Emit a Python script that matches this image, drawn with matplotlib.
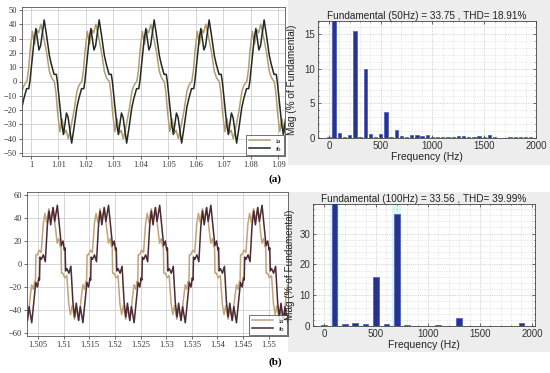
import numpy as np
import matplotlib
matplotlib.use("Agg")
import matplotlib.pyplot as plt
from matplotlib.patches import Rectangle
from matplotlib.ticker import MultipleLocator

# ---- (a) waveforms: one period (ms relative to 1.00 s)
ia_a_t = [-3.3, -2.6, -2.0, -1.5, -0.9, -0.3, 0.5, 1.3, 2.2, 2.8, 3.6, 4.6, 5.7,
          6.7, 7.4, 8.0, 8.5, 9.1, 9.7, 10.5, 11.3, 12.2, 12.8, 13.6, 14.6, 15.7]
ia_a_v = [-7, -3, -1, 0, 8, 22, 35, 26, 36, 34, 40, 31, 20,
          7, 3, 1, 0, -8, -22, -35, -26, -36, -34, -40, -31, -20]
ib_a_t = [-3.3, -2.6, -1.6, -0.8, -0.4, 0.4, 1.2, 1.8, 2.3, 2.9, 3.5, 4.2, 4.8, 5.6,
          6.7, 7.4, 8.4, 9.2, 9.6, 10.4, 11.2, 11.8, 12.3, 12.9, 13.5, 14.2, 14.8, 15.6]
ib_a_v = [-18, -12, -5, -5, 0, 15, 30, 37, 30, 22, 25, 35, 43, 33,
          18, 12, 5, 5, 0, -15, -30, -37, -30, -22, -25, -35, -43, -33]

# ---- (b) waveforms: one period (ms relative to 1.50454 s)
ia_b_t = [0.0, 0.26, 0.65, 1.04, 1.43, 1.76, 2.09, 2.54, 2.87, 3.39, 3.85, 4.17, 4.5, 4.76, 4.9,
          5.0, 5.26, 5.65, 6.04, 6.43, 6.76, 7.09, 7.54, 7.87, 8.39, 8.85, 9.17, 9.5, 9.76, 9.9]
ia_b_v = [8, 8, 12, 10, 35, 44, 36, 48, 38, 49, 30, 18, 22, 15, 16,
          -8, -8, -12, -10, -35, -44, -36, -48, -38, -49, -30, -18, -22, -15, -16]
ib_b_t = [0.8, 1.06, 1.45, 1.84, 2.23, 2.56, 2.89, 3.34, 3.67, 4.19, 4.65, 4.97, 5.3, 5.56, 5.7,
          5.8, 6.06, 6.45, 6.84, 7.23, 7.56, 7.89, 8.34, 8.67, 9.19, 9.65, 9.97, 10.3, 10.56, 10.7]
ib_b_v = [6, 4, 8, 2, 33, 46, 34, 49, 37, 51, 30, 16, 20, 12, 14,
          -6, -4, -8, -2, -33, -46, -34, -49, -37, -51, -30, -16, -20, -12, -14]

# ---- FFT spectra
freq_a = [0, 50, 100, 150, 200, 250, 300, 350, 400, 450, 500, 550, 600, 650, 700, 750, 800,
          850, 900, 950, 1000, 1050, 1100, 1150, 1200, 1250, 1300, 1350, 1400, 1450, 1500,
          1550, 1600, 1650, 1700, 1750, 1800, 1850, 1900, 1950]
mag_a = [0.2, 100, 0.7, 0.1, 0.5, 15.4, 0.2, 10.0, 0.6, 0.2, 0.6, 3.8, 0.2, 1.2, 0.3, 0.2, 0.4,
         0.4, 0.3, 0.4, 0.2, 0.1, 0.2, 0.2, 0.2, 0.3, 0.3, 0.2, 0.1, 0.3, 0.2,
         0.5, 0.1, 0.05, 0.05, 0.2, 0.1, 0.2, 0.1, 0.1]
freq_b = [0, 100, 200, 300, 400, 500, 600, 700, 800, 900, 1000, 1100, 1200, 1300, 1400,
          1500, 1600, 1700, 1800, 1900]
mag_b = [0.4, 100, 0.7, 0.9, 0.7, 16.0, 0.6, 36.2, 0.3, 0.1, 0.1, 0.4, 0.1, 2.6, 0.1,
         0.1, 0.1, 0.1, 0.1, 0.9]

title_a = "Fundamental (50Hz) = 33.75 , THD= 18.91%"
title_b = "Fundamental (100Hz) = 33.56 , THD= 39.99%"
xt_a = [1, 1.01, 1.02, 1.03, 1.04, 1.05, 1.06, 1.07, 1.08, 1.09]
xt_b = [1.505, 1.51, 1.515, 1.52, 1.525, 1.53, 1.535, 1.54, 1.545, 1.55]


def periodic(t_ms, v, base, period_ms, kmin, kmax):
    tt, vv = [], []
    for k in range(kmin, kmax + 1):
        tt += [base + (t + k * period_ms) / 1000.0 for t in t_ms]
        vv += list(v)
    return np.array(tt), np.array(vv)


W, H = 550, 373
fig = plt.figure(figsize=(W / 100, H / 100), dpi=100)
fig.patch.set_facecolor("white")

def fbox(l, t, r, b):
    return [l / W, 1 - b / H, (r - l) / W, (b - t) / H]

# gray panels behind the spectra
for (l, t, r, b) in [(288, 0, 550, 165), (288, 192, 550, 352)]:
    fig.patches.append(Rectangle((l / W, 1 - b / H), (r - l) / W, (b - t) / H,
                                 transform=fig.transFigure, facecolor="#ededed",
                                 edgecolor="none", zorder=-5))

serif = "Liberation Serif"
sans = "Liberation Sans"


def wave_axes(box, xs, tick_lbls, ylim, yticks, xlim, series):
    ax = fig.add_axes(box)
    ax.set_zorder(1)
    for (t, v, c, lab) in series:
        ax.plot(t, v, color=c, lw=1.1, label=lab)
    ax.set_xlim(xlim)
    ax.set_ylim(ylim)
    ax.set_xticks(xs)
    ax.set_xticklabels(tick_lbls)
    ax.set_yticks(yticks)
    ax.grid(True, color="#cfcfcf", lw=0.6)
    ax.set_axisbelow(True)
    ax.tick_params(labelsize=6, length=2, width=0.5, pad=1.5, colors="#333333")
    for lbl in ax.get_xticklabels() + ax.get_yticklabels():
        lbl.set_family(serif)
    for s in ax.spines.values():
        s.set_linewidth(0.6)
        s.set_color("#555555")
    leg = ax.legend(loc="lower right", prop={"family": serif, "size": 5},
                    handlelength=3, fancybox=False, edgecolor="#333333",
                    borderaxespad=0.2, labelspacing=0.3)
    leg.get_frame().set_linewidth(0.6)
    return ax


ta, va = periodic(ia_a_t, ia_a_v, 1.00, 20, -1, 5)
tb, vb = periodic(ib_a_t, ib_a_v, 1.00, 20, -1, 5)
wave_axes(fbox(22, 7, 285, 156), xt_a, [f"{x:g}" for x in xt_a], (-52, 52),
          range(-50, 51, 10), (0.99673, 1.0924),
          [(ta, va, "#b39b72", "ia"), (tb, vb, "#1e2a22", "ib")])

ta2, va2 = periodic(ia_b_t, ia_b_v, 1.50454, 10, -1, 6)
tb2, vb2 = periodic(ib_b_t, ib_b_v, 1.50454, 10, -1, 6)
wave_axes(fbox(27, 192, 288, 336), xt_b, [f"{x:g}" for x in xt_b], (-62.5, 62.5),
          range(-60, 61, 20), (1.5028, 1.5538),
          [(ta2, va2, "#c4a27a", "ia"), (tb2, vb2, "#4a2a35", "ib")])


def spec_axes(box, f, m, width, xlim, ylim, ymaj, ymin, title, hl, ylx):
    ax = fig.add_axes(box)
    ax.set_zorder(2)
    for c in hl:
        ax.axvspan(c - 0.8 * width, c + 0.8 * width, color="#dcf7f7", lw=0, zorder=0)
    ax.bar(f, m, width=width, color="#27348b", edgecolor="#4656c8", lw=0.5, zorder=3)
    ax.set_xlim(xlim)
    ax.set_ylim(ylim)
    ax.set_xticks([0, 500, 1000, 1500, 2000])
    ax.yaxis.set_major_locator(MultipleLocator(ymaj))
    ax.yaxis.set_minor_locator(MultipleLocator(ymin))
    ax.xaxis.set_minor_locator(MultipleLocator(100))
    ax.grid(True, which="major", color="#b0b0b0", lw=0.5, ls=":")
    ax.grid(True, which="minor", color="#c8c8c8", lw=0.4, ls=":")
    ax.set_axisbelow(True)
    ax.tick_params(which="both", direction="in", top=True, right=True,
                   labelsize=7, length=2, width=0.5, colors="#333333", pad=2)
    ax.tick_params(which="minor", length=1)
    for s in ax.spines.values():
        s.set_linewidth(0.6)
        s.set_color("#444444")
    for lbl in ax.get_xticklabels() + ax.get_yticklabels():
        lbl.set_family(sans)
    ax.set_title(title, fontsize=7.2, family=sans, pad=1.5, color="#222222")
    ax.set_xlabel("Frequency (Hz)", fontsize=7.5, family=sans, labelpad=1, color="#222222")
    ax.set_ylabel("Mag (% of Fundamental)", fontsize=7.2, family=sans, color="#222222")
    ax.yaxis.set_label_coords(ylx, 0.5)
    return ax


spec_axes(fbox(318, 21, 536, 138), freq_a, mag_a, 32, (-106, 2000), (0, 16.9),
          5, 1, title_a, [50], -0.095)
spec_axes(fbox(313, 204, 535, 326), freq_b, mag_b, 55, (-106, 2030), (0, 39.6),
          10, 2, title_b, [100, 700], -0.08)

fig.text(275 / W, 1 - 179 / H, "(a)", family=serif, weight="bold", fontsize=8,
         ha="center", va="center")
fig.text(275 / W, 1 - 362 / H, "(b)", family=serif, weight="bold", fontsize=8,
         ha="center", va="center")

fig.savefig("out.png", dpi=100)
